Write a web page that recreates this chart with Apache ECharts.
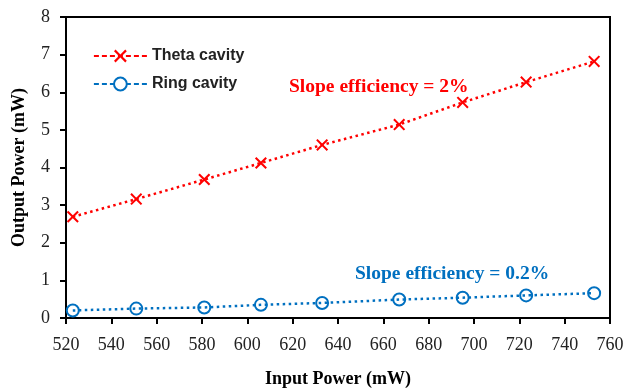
<!DOCTYPE html>
<html>
<head>
<meta charset="utf-8">
<script src="https://cdn.jsdelivr.net/npm/echarts@6/dist/echarts.min.js"></script>
<style>
  html, body { margin: 0; padding: 0; background: #fff; }
  #chart { width: 640px; height: 389px; }
</style>
</head>
<body>
<div id="chart"></div>
<script>
"use strict";

// values
let inputPower = [523, 551, 581, 606, 633, 667, 695, 723, 753];
let thetaOutput = [2.69, 3.16, 3.68, 4.12, 4.60, 5.14, 5.73, 6.27, 6.82];
let ringOutput = [0.20, 0.25, 0.28, 0.35, 0.40, 0.49, 0.54, 0.60, 0.66];
let seriesNames = ["Theta cavity", "Ring cavity"];
let slopeLabels = ["Slope efficiency = 2%", "Slope efficiency = 0.2%"];

const RED = "#ff0000";
const BLUE = "#0070c0";
const SERIF = "'Liberation Serif', 'DejaVu Serif', serif";
const SANS = "'Liberation Sans', Arial, sans-serif";
const CROSS = "path://M0,1.2L1.2,0L5,3.8L8.8,0L10,1.2L6.2,5L10,8.8L8.8,10L5,6.2L1.2,10L0,8.8L3.8,5Z";

function pairs(xs, ys) {
    let out = [];
    for (let i = 0; i < xs.length; i++) {
        out.push([xs[i], ys[i]]);
    }
    return out;
}

let chart = echarts.init(document.getElementById("chart"));

chart.setOption({
    animation: false,
    backgroundColor: "#fff",
    grid: {
        left: 66, right: 30, top: 17, bottom: 71,
        outerBoundsMode: "none",
        show: true, borderColor: "#000", borderWidth: 2
    },
    legend: {
        orient: "vertical",
        left: 93, top: 48,
        padding: 0,
        itemWidth: 53, itemHeight: 16, itemGap: 12,
        textStyle: { fontFamily: SANS, fontWeight: "bold", fontSize: 16, color: "#222" },
        data: [
            { name: seriesNames[0], lineStyle: { type: [5, 3], width: 1.8 } },
            {
                name: seriesNames[1],
                lineStyle: { type: [5, 3], width: 1.8 },
                itemStyle: { color: "#fff", borderColor: BLUE, borderWidth: 2 }
            }
        ]
    },
    xAxis: {
        type: "value",
        min: 520, max: 760, interval: 20,
        name: "Input Power (mW)",
        nameLocation: "middle", nameGap: 52,
        nameTextStyle: { fontFamily: SERIF, fontWeight: "bold", fontSize: 18, color: "#000" },
        axisLine: { lineStyle: { color: "#000", width: 2 } },
        axisTick: { show: true, length: 6, lineStyle: { color: "#000", width: 2 } },
        axisLabel: { fontFamily: SERIF, fontSize: 18, color: "#222", margin: 18 },
        splitLine: { show: false }
    },
    yAxis: {
        type: "value",
        min: 0, max: 8, interval: 1,
        name: "Output Power (mW)",
        nameLocation: "middle", nameGap: 38,
        nameTextStyle: { fontFamily: SERIF, fontWeight: "bold", fontSize: 18, color: "#000" },
        axisLine: { show: true, lineStyle: { color: "#000", width: 2 } },
        axisTick: { show: true, length: 6, lineStyle: { color: "#000", width: 2 } },
        axisLabel: { fontFamily: SERIF, fontSize: 18, color: "#222", margin: 16 },
        splitLine: { show: false }
    },
    series: [
        {
            name: seriesNames[0],
            type: "line",
            data: pairs(inputPower, thetaOutput),
            symbol: CROSS,
            symbolSize: 12,
            itemStyle: { color: RED },
            lineStyle: { color: RED, width: 2.5, type: [2.5, 3.5] }
        },
        {
            name: seriesNames[1],
            type: "line",
            data: pairs(inputPower, ringOutput),
            symbol: "circle",
            symbolSize: 12,
            itemStyle: { color: "rgba(0,0,0,0)", borderColor: BLUE, borderWidth: 2 },
            lineStyle: { color: BLUE, width: 2.5, type: [2.5, 3.5] }
        }
    ],
    graphic: [
        {
            type: "text", left: 289, top: 77,
            style: { text: slopeLabels[0], fill: RED, font: "bold 19.5px " + SERIF }
        },
        {
            type: "text", left: 355, top: 264,
            style: { text: slopeLabels[1], fill: BLUE, font: "bold 19.5px " + SERIF }
        }
    ]
});
</script>
</body>
</html>
